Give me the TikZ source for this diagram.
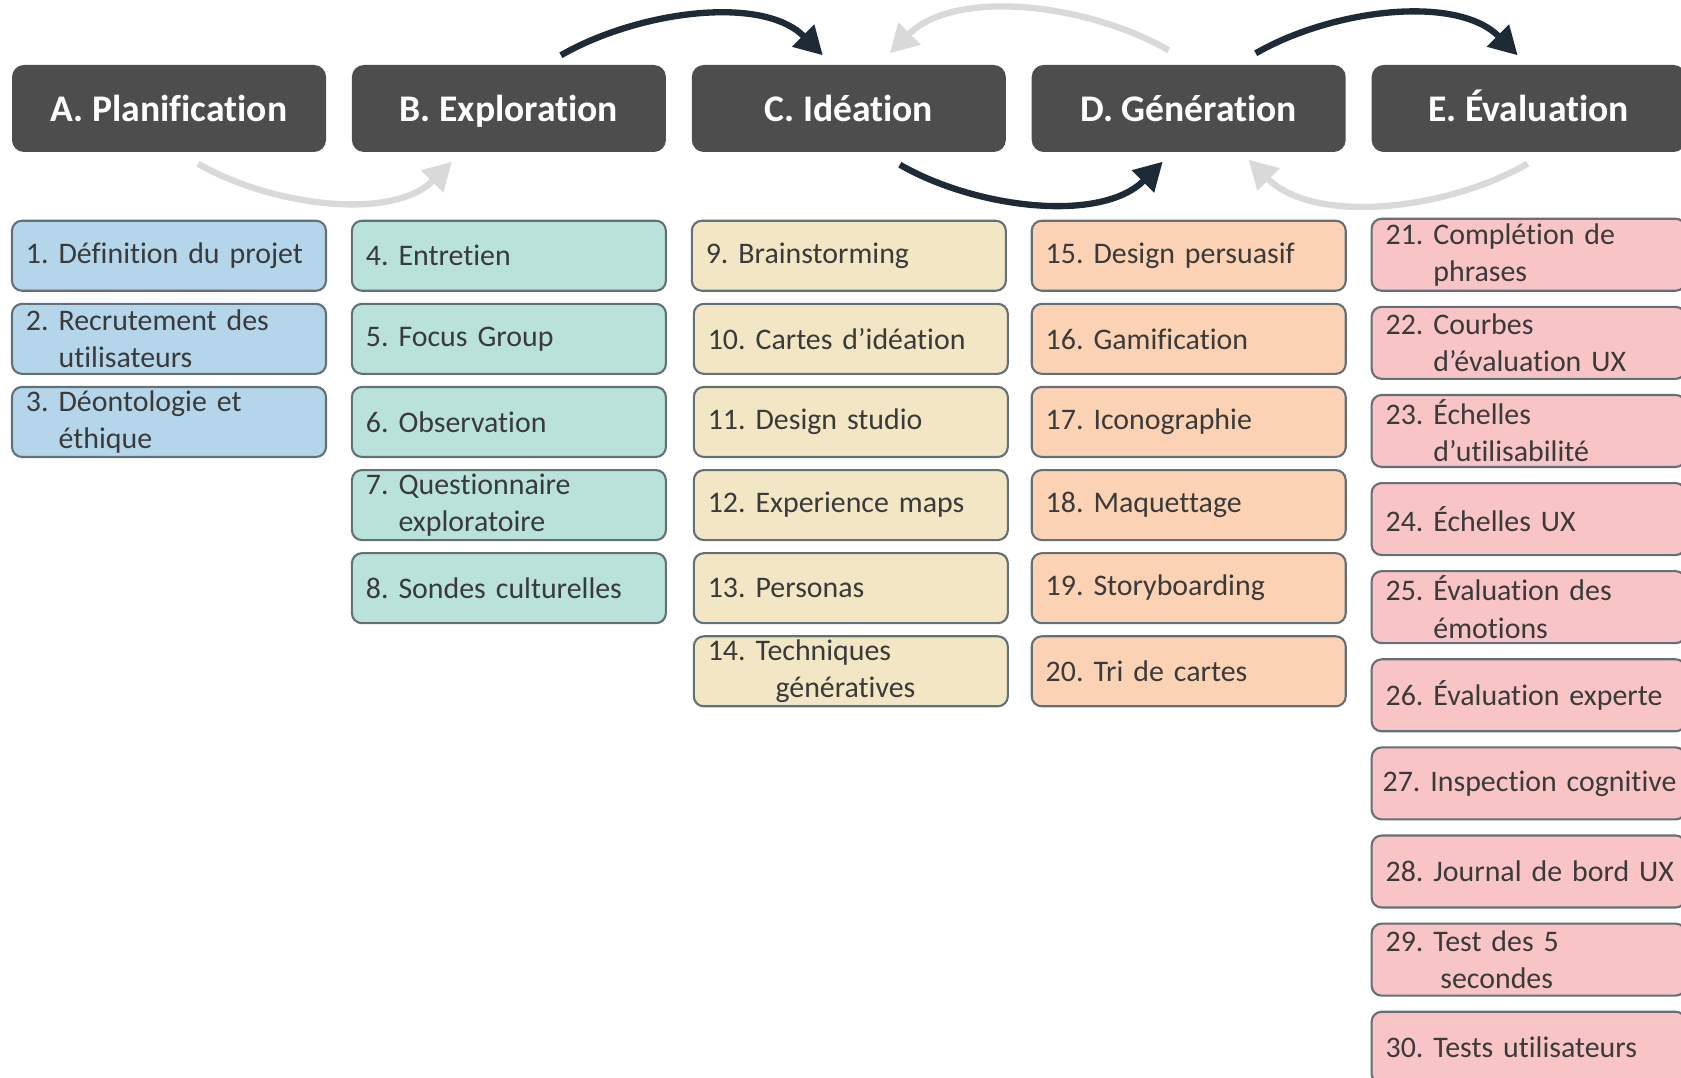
\documentclass[tikz,border=0pt]{standalone}
\usepackage{fontspec}
\setmainfont{Carlito}[Ligatures=NoCommon]
\usepackage{tikz}
\usetikzlibrary{arrows.meta, positioning}

\definecolor{hdrgray}{RGB}{77,77,77}
\definecolor{edgegray}{RGB}{100,112,120}
\definecolor{txtgray}{RGB}{58,58,58}
\definecolor{darkarrow}{RGB}{30,43,55}
\definecolor{lightarrow}{RGB}{217,217,217}
\definecolor{planblue}{RGB}{181,214,234}
\definecolor{explmint}{RGB}{185,226,218}
\definecolor{ideacream}{RGB}{242,230,196}
\definecolor{genpeach}{RGB}{251,211,180}
\definecolor{evalpink}{RGB}{248,196,198}

\frenchspacing
\newcommand{\twolines}[3]{#1~#2\\\hspace*{0.06cm}\phantom{#1~}#3}

\begin{document}
\begin{tikzpicture}[
    header/.style={rectangle, rounded corners=0.12cm, fill=hdrgray, text=white, minimum width=3.14cm, minimum height=0.87cm, text height=0.8em, text depth=0.06em, font=\fontsize{10.7}{13}\selectfont\bfseries},
    tech/.style={rectangle, rounded corners=0.1cm, draw=edgegray, line width=0.6pt, text=txtgray, text width=2.98cm, inner xsep=0.08cm, inner ysep=0.01cm, minimum height=0.70cm, align=left, execute at begin node={\hspace*{0.06cm}}, font=\fontsize{8.5}{10.6}\selectfont},
    evaltech/.style={tech, fill=evalpink, minimum height=0.72cm},
    darkarc/.style={-{Triangle[length=0.28cm, width=0.30cm]}, line width=1.8pt, draw=darkarrow},
    lightarc/.style={-{Triangle[length=0.28cm, width=0.30cm]}, line width=1.8pt, draw=lightarrow},
    node distance=0.11cm
]
\useasboundingbox (0,0) rectangle (16.81,-10.78);
\clip (0,0) rectangle (16.81,-10.78);

% Phases
\node[header] (plan) at (1.69,-1.085) {A. Planification};
\node[header, right=0.245cm of plan] (expl) {B. Exploration};
\node[header, right=0.245cm of expl] (idea) {C. Idéation};
\node[header, right=0.245cm of idea] (gen) {D. Génération};
\node[header, right=0.245cm of gen] (eval) {E. Évaluation};

% A. Planification
\node[tech, fill=planblue, below=0.67cm of plan] (t1) {1. Définition du projet};
\node[tech, fill=planblue, below=of t1] (t2) {\twolines{2.}{Recrutement des}{utilisateurs}};
\node[tech, fill=planblue, below=of t2] (t3) {\twolines{3.}{Déontologie et}{éthique}};

% B. Exploration
\node[tech, fill=explmint, below=0.67cm of expl] (t4) {4. Entretien};
\node[tech, fill=explmint, below=of t4] (t5) {5. Focus Group};
\node[tech, fill=explmint, below=of t5] (t6) {6. Observation};
\node[tech, fill=explmint, below=of t6] (t7) {\twolines{7.}{Questionnaire}{exploratoire}};
\node[tech, fill=explmint, below=of t7] (t8) {8. Sondes culturelles};

% C. Ideation
\node[tech, fill=ideacream, below=0.67cm of idea] (t9) {9. Brainstorming};
\node[tech, fill=ideacream, below=of t9, xshift=0.02cm] (t10) {10. Cartes d’idéation};
\node[tech, fill=ideacream, below=of t10] (t11) {11. Design studio};
\node[tech, fill=ideacream, below=of t11] (t12) {12. Experience maps};
\node[tech, fill=ideacream, below=of t12] (t13) {13. Personas};
\node[tech, fill=ideacream, below=of t13] (t14) {\twolines{14.}{Techniques}{\hspace{0.2cm}génératives}};

% D. Generation
\node[tech, fill=genpeach, below=0.67cm of gen] (t15) {15. Design persuasif};
\node[tech, fill=genpeach, below=of t15] (t16) {16. Gamification};
\node[tech, fill=genpeach, below=of t16] (t17) {17. Iconographie};
\node[tech, fill=genpeach, below=of t17] (t18) {18. Maquettage};
\node[tech, fill=genpeach, below=of t18] (t19) {19. Storyboarding};
\node[tech, fill=genpeach, below=of t19] (t20) {20. Tri de cartes};

% E. Evaluation
\node[evaltech, below=0.65cm of eval] (t21) {\twolines{21.}{Complétion de}{phrases}};
\node[evaltech, below=0.14cm of t21] (t22) {\twolines{22.}{Courbes}{d’évaluation UX}};
\node[evaltech, below=0.14cm of t22] (t23) {\twolines{23.}{Échelles}{d’utilisabilité}};
\node[evaltech, below=0.14cm of t23] (t24) {24. Échelles UX};
\node[evaltech, below=0.14cm of t24] (t25) {\twolines{25.}{Évaluation des}{émotions}};
\node[evaltech, below=0.14cm of t25] (t26) {26. Évaluation experte};
\node[evaltech, below=0.14cm of t26, text width=3.12cm, inner xsep=0.01cm, execute at begin node={\hspace*{0.04cm}}] (t27) {27. Inspection cognitive};
\node[evaltech, below=0.14cm of t27] (t28) {28. Journal de bord UX};
\node[evaltech, below=0.14cm of t28] (t29) {\twolines{29.}{Test des 5}{\hspace{0.07cm}secondes}};
\node[evaltech, below=0.14cm of t29] (t30) {30. Tests utilisateurs};

% Arcs above the phases
\draw[darkarc] ([shift={(0.52,0.09)}]expl.north) to[out=30, in=135, looseness=0.85] ([shift={(-0.26,0.09)}]idea.north);
\draw[lightarc] ([shift={(-0.20,0.14)}]gen.north) to[out=150, in=45, looseness=0.85] ([shift={(0.41,0.11)}]idea.north);
\draw[darkarc] ([shift={(0.67,0.11)}]gen.north) to[out=30, in=135, looseness=0.85] ([shift={(-0.11,0.09)}]eval.north);

% Arcs below the phases
\draw[lightarc] ([shift={(0.29,-0.11)}]plan.south) to[out=-30, in=-135, looseness=0.85] ([shift={(-0.57,-0.09)}]expl.south);
\draw[darkarc] ([shift={(0.51,-0.12)}]idea.south) to[out=-30, in=-135, looseness=0.85] ([shift={(-0.26,-0.09)}]gen.south);
\draw[lightarc] ([shift={(-0.01,-0.11)}]eval.south) to[out=-150, in=-45, looseness=0.85] ([shift={(0.60,-0.07)}]gen.south);

\end{tikzpicture}
\end{document}
